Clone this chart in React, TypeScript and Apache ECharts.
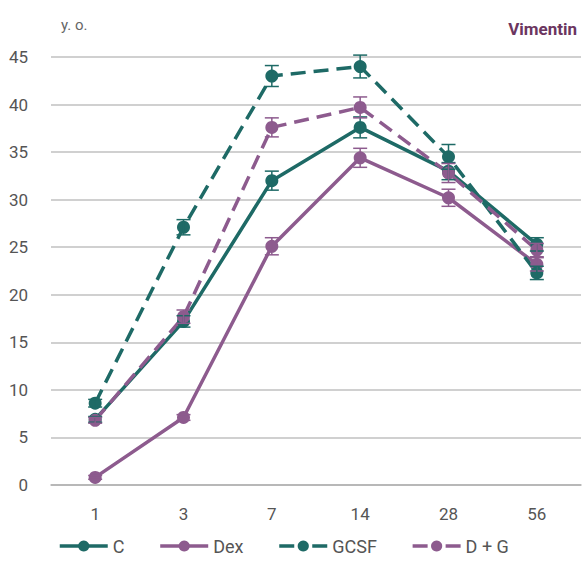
import React, { useEffect, useRef } from "react";
import * as echarts from "echarts";

const categories = ["1", "3", "7", "14", "28", "56"];
const seriesNames = ["C", "Dex", "GCSF", "D + G"];
const cValues = [6.9, 17.2, 32.0, 37.6, 33.0, 25.3];
const dexValues = [0.8, 7.1, 25.1, 34.4, 30.2, 23.2];
const gcsfValues = [8.6, 27.1, 43.0, 44.0, 34.5, 22.3];
const dgValues = [6.8, 17.7, 37.6, 39.7, 32.8, 24.7];
const cErr = [0.3, 0.6, 1.0, 1.1, 0.9, 0.7];
const dexErr = [0.2, 0.3, 0.9, 1.0, 0.9, 0.7];
const gcsfErr = [0.4, 0.8, 1.1, 1.2, 1.3, 0.7];
const dgErr = [0.3, 0.7, 1.0, 1.1, 1.0, 0.7];

const TEAL = "#1e6a66";
const PURPLE = "#8d5b8e";

export default function App() {
  const ref = useRef<HTMLDivElement>(null);
  useEffect(() => {
    if (!ref.current) return;
    const chart = echarts.init(ref.current, null, { renderer: "svg" });
    const defs = [
      { name: seriesNames[0], vals: cValues, err: cErr, color: TEAL, dashed: false },
      { name: seriesNames[1], vals: dexValues, err: dexErr, color: PURPLE, dashed: false },
      { name: seriesNames[2], vals: gcsfValues, err: gcsfErr, color: TEAL, dashed: true },
      { name: seriesNames[3], vals: dgValues, err: dgErr, color: PURPLE, dashed: true },
    ];
    const series: any[] = [];
    defs.forEach((d) => {
      series.push({
        name: d.name,
        type: "line",
        data: d.vals,
        symbol: "circle",
        symbolSize: 13,
        lineStyle: { color: d.color, width: 3.5, type: d.dashed ? [15, 8] : "solid" },
        itemStyle: { color: d.color },
        z: 3,
      });
      series.push({
        name: d.name,
        type: "custom",
        data: d.vals.map((v, i) => [i, v - d.err[i], v + d.err[i]]),
        renderItem: (params: any, api: any) => {
          const lo = api.coord([api.value(0), api.value(1)]);
          const hi = api.coord([api.value(0), api.value(2)]);
          const hw = 7;
          const style = { stroke: d.color, lineWidth: 1.5, fill: "none" };
          return {
            type: "group",
            children: [
              { type: "line", shape: { x1: lo[0], y1: lo[1], x2: hi[0], y2: hi[1] }, style },
              { type: "line", shape: { x1: lo[0] - hw, y1: lo[1], x2: lo[0] + hw, y2: lo[1] }, style },
              { type: "line", shape: { x1: hi[0] - hw, y1: hi[1], x2: hi[0] + hw, y2: hi[1] }, style },
            ],
          };
        },
        encode: { x: 0, y: [1, 2] },
        z: 4,
        silent: true,
      });
    });
    chart.setOption({
      animation: false,
      backgroundColor: "#ffffff",
      textStyle: { fontFamily: "Roboto, 'Liberation Sans', sans-serif" },
      title: [
        {
          text: "Vimentin",
          right: 3,
          top: 15,
          textStyle: { fontSize: 17, fontWeight: "bold", color: "#6b3560" },
        },
        {
          text: "y. o.",
          left: 56,
          top: 12,
          textStyle: { fontSize: 15, fontWeight: "normal", color: "#666" },
        },
      ],
      legend: {
        bottom: 5,
        left: 53,
        itemWidth: 48,
        itemHeight: 14,
        itemGap: 34,
        data: defs.map((d) => ({
          name: d.name,
          lineStyle: { type: d.dashed ? [15, 18] : "solid", width: 3.5, color: d.color },
        })),
        textStyle: { fontSize: 18, color: "#555" },
      },
      grid: { left: 51, right: 4, top: 57, bottom: 80, containLabel: false },
      xAxis: {
        type: "category",
        data: categories,
        boundaryGap: true,
        axisLine: { lineStyle: { color: "#b0b0b0", width: 1.5 } },
        axisTick: { alignWithLabel: true, length: 6, lineStyle: { color: "#b0b0b0" } },
        axisLabel: { fontSize: 17, color: "#555", margin: 20 },
      },
      yAxis: {
        type: "value",
        min: 0,
        max: 45,
        interval: 5,
        axisLine: { show: false },
        axisTick: { show: false },
        splitLine: { lineStyle: { color: "#c0c0c0", width: 1.5 } },
        axisLabel: { fontSize: 17, color: "#555", margin: 23 },
      },
      series,
    });
    return () => chart.dispose();
  }, []);
  return <div ref={ref} style={{ width: 585, height: 565, position: "absolute", left: 0, top: 0 }} />;
}
